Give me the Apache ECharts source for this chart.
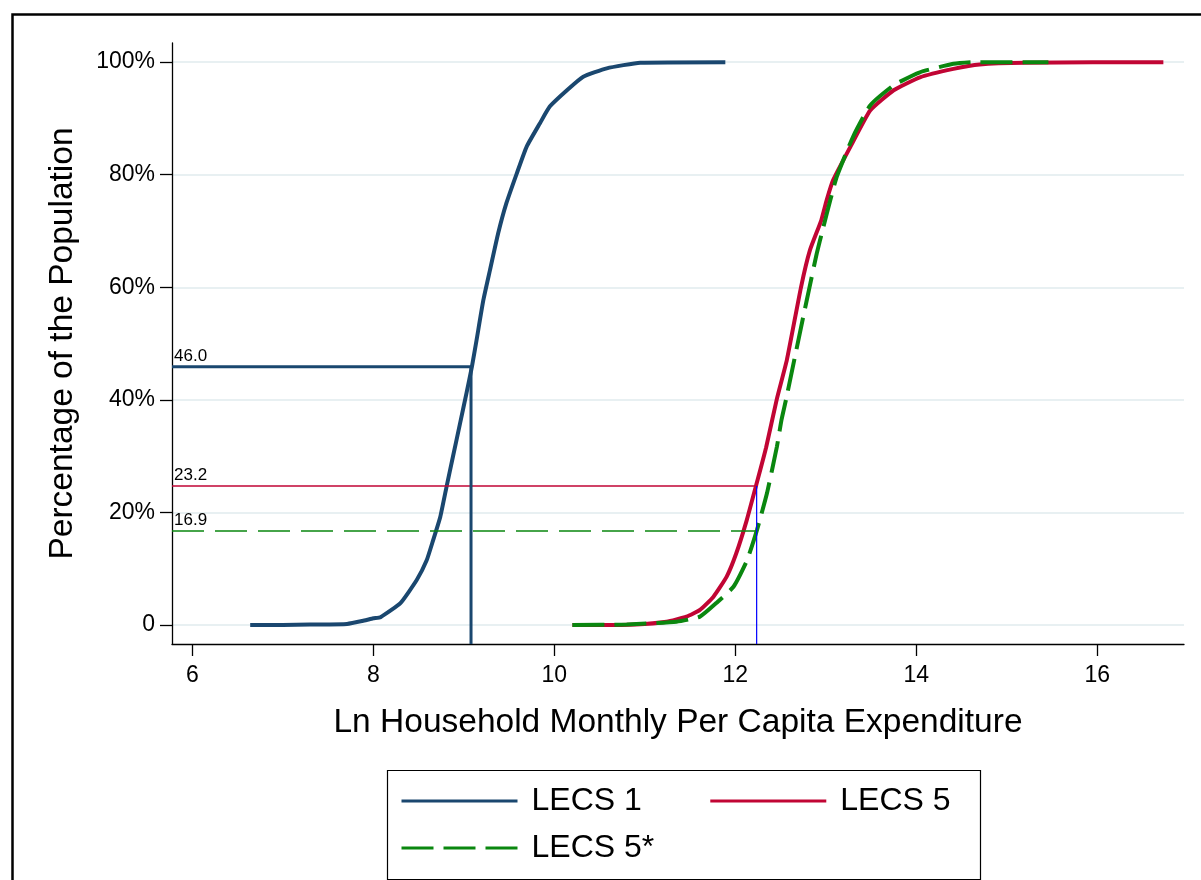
<!DOCTYPE html>
<html>
<head>
<meta charset="utf-8">
<script src="https://cdn.jsdelivr.net/npm/echarts@6/dist/echarts.min.js"></script>
<style>
html,body{margin:0;padding:0;background:#fff;}
#chart{width:1201px;height:880px;}
</style>
</head>
<body>
<div id="chart"></div>
<script>
// ---- data ----
const xTicks = [6, 8, 10, 12, 14, 16];
const yTicks = [0, 20, 40, 60, 80, 100];
const xMin = 5.776, xMax = 16.958;
const yMin = -3.37, yMax = 103.4;

const seriesNames = ['LECS 1', 'LECS 5', 'LECS 5*'];

const lecs1 = [
  [6.64,0],[7.0,0],[7.3,0.1],[7.71,0.2],[7.9,0.8],[8.0,1.2],[8.08,1.4],[8.3,3.9],[8.48,8],
  [8.59,11.5],[8.66,15],[8.74,19.2],[8.81,24.6],[8.88,29.9],[8.96,35.9],[9.03,41.2],
  [9.09,45.9],[9.14,50.5],[9.216,57.7],[9.29,63.1],[9.38,69.6],[9.47,74.9],[9.585,80.2],
  [9.695,85],[9.84,89.1],[9.95,92.1],[10.14,95],[10.32,97.4],[10.58,98.9],[10.95,99.9],[11.89,100]
];
const lecs5 = [
  [10.2,0],[10.5,0],[10.9,0.1],[11.24,0.6],[11.46,1.5],[11.61,2.7],[11.757,5.0],[11.905,8.6],
  [12.01,12.7],[12.126,18.6],[12.23,24.8],[12.34,31.5],[12.457,40],[12.57,47.1],[12.726,60],
  [12.825,66.6],[12.95,71.9],[13.01,75.5],[13.08,79.0],[13.27,84.9],[13.49,91.4],[13.75,95.0],
  [14.04,97.3],[14.41,98.8],[14.70,99.6],[15.2,99.9],[16.73,100]
];
const lecs5s = [
  [10.2,0],[10.8,0.1],[11.35,0.6],[11.61,1.5],[11.79,3.9],[11.98,6.8],[12.13,11.5],[12.24,16.9],
  [12.35,23.4],[12.46,31.7],[12.51,36.4],[12.56,40],[12.75,54.7],[12.82,60],[12.90,66],
  [12.97,70.5],[13.05,75.5],[13.12,79.6],[13.30,86.7],[13.49,92.3],[13.75,95.9],[14.04,98.2],
  [14.41,99.7],[14.63,100],[15.46,100]
];

// reference markers: [x where line meets curve, y level, label]
const ref1 = { x: 9.08, y: 45.9, label: '46.0' };
const ref5 = { x: 12.236, y: 24.7, label: '23.2' };
const ref5s = { x: 12.236, y: 16.7, label: '16.9' };

// ---- styles ----
const NAVY = '#1a476f', CRIM = '#c10534', GREEN = '#0a870f', BLUE = '#0000ff';
const FONT = '"Liberation Sans", Arial, sans-serif';

function refLabel(text) {
  return { show: true, formatter: text, position: 'top', align: 'left', offset: [2, 0], distance: 2,
           fontSize: 17, color: '#000', fontFamily: FONT };
}
function hSeg(ref, color, width, type) {
  return {
    type: 'line', silent: true, symbol: 'circle', symbolSize: 0, showSymbol: true,
    lineStyle: { color: color, width: width, type: type || 'solid' }, itemStyle: { color: color },
    data: [{ value: [xMin, ref.y], label: refLabel(ref.label) }, { value: [ref.x, ref.y] }],
    z: 3, animation: false
  };
}
function vSeg(x, yTop, color, width) {
  return {
    type: 'line', silent: true, symbol: 'none',
    lineStyle: { color: color, width: width }, data: [[x, yTop], [x, yMin]], z: 4, animation: false
  };
}
function curve(name, data, color, type) {
  return { name: name, type: 'line', data: data, symbol: 'none', smooth: 0.15,
           lineStyle: { color: color, width: 4, type: type || 'solid' }, itemStyle: { color: color }, z: 2 };
}
const legendBase = {
  orient: 'horizontal', selectedMode: false, padding: 0, itemWidth: 116, itemHeight: 30,
  textStyle: { fontSize: 32, color: '#000', fontFamily: FONT, padding: [0, 0, 0, 9] },
  lineStyle: { width: 3 },
  itemStyle: { opacity: 0 }
};

const chart = echarts.init(document.getElementById('chart'), null, { renderer: 'canvas' });
const option = {
  backgroundColor: '#fff',
  animation: false,
  textStyle: { fontFamily: FONT },
  grid: { left: 172, right: 17, top: 43, bottom: 236, containLabel: false },
  xAxis: {
    type: 'value', min: xMin, max: xMax,
    name: 'Ln Household Monthly Per Capita Expenditure', nameLocation: 'middle', nameGap: 62,
    nameTextStyle: { fontSize: 33.5, color: '#000', fontFamily: FONT },
    axisLine: { show: true, onZero: false, lineStyle: { color: '#000', width: 1.3 } },
    axisTick: { show: true, length: 12, customValues: xTicks, lineStyle: { color: '#000', width: 1.3 } },
    axisLabel: { customValues: xTicks, fontSize: 23, color: '#000', margin: 20, fontFamily: FONT },
    splitLine: { show: false }
  },
  yAxis: {
    type: 'value', min: yMin, max: yMax,
    name: 'Percentage of the Population', nameLocation: 'middle', nameGap: 92, nameRotate: 90,
    nameTextStyle: { fontSize: 33.5, color: '#000', fontFamily: FONT },
    axisLine: { show: true, onZero: false, lineStyle: { color: '#000', width: 1.3 } },
    axisTick: { show: true, length: 12, customValues: yTicks, lineStyle: { color: '#000', width: 1.3 } },
    axisLabel: { customValues: yTicks, fontSize: 23, color: '#000', margin: 17, fontFamily: FONT,
                 formatter: v => v === 0 ? '0' : v + '%' },
    splitLine: { show: true, lineStyle: { color: '#e8f0f2', width: 2 } }
  },
  legend: [
    Object.assign({}, legendBase, { left: 400, top: 785, itemGap: 67, data: [seriesNames[0], seriesNames[1]] }),
    Object.assign({}, legendBase, { left: 400, top: 832, itemGap: 67, data: [seriesNames[2]] })
  ],
  graphic: [{
    type: 'rect', left: 10, top: 12, silent: true,
    shape: { x: 0, y: 0, width: 1300, height: 1000 },
    style: { fill: null, stroke: '#000', lineWidth: 2.5 }
  }, {
    type: 'rect', left: 385, top: 768, silent: true,
    shape: { x: 0, y: 0, width: 593, height: 109 },
    style: { fill: null, stroke: '#000', lineWidth: 1.2 }
  }],
  series: [
    curve(seriesNames[0], lecs1, NAVY),
    curve(seriesNames[1], lecs5, CRIM),
    curve(seriesNames[2], lecs5s, GREEN, [32, 10]),
    hSeg(ref1, NAVY, 3),
    vSeg(ref1.x, ref1.y, NAVY, 3),
    hSeg(ref5, CRIM, 1.5),
    hSeg(ref5s, GREEN, 1.5, [32, 11]),
    vSeg(ref5.x, ref5.y, BLUE, 1.2)
  ]
};
chart.setOption(option);
</script>
</body>
</html>
